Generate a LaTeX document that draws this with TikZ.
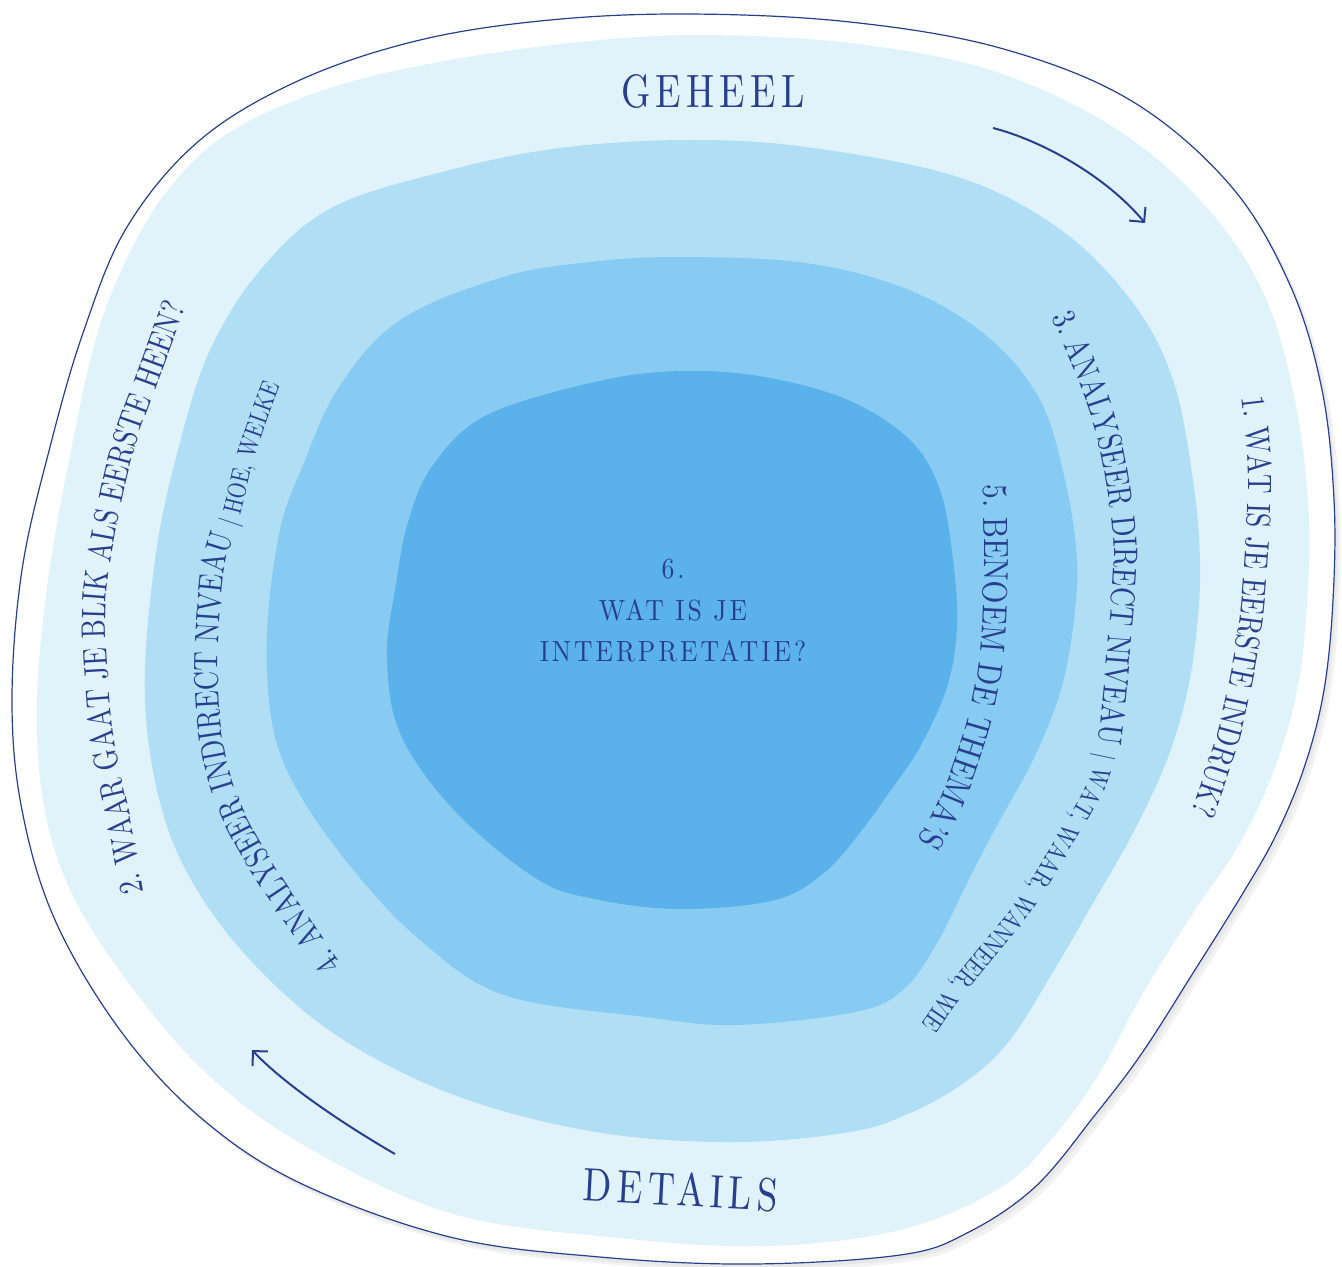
\documentclass[tikz,border=0pt]{standalone}
\usepackage{fontspec}
\usetikzlibrary{decorations.text,arrows.meta}
\newfontfamily\dfontA[FakeStretch=0.79,Ligatures=TeX]{lmroman10-regular.otf}
\newfontfamily\dfontB[FakeStretch=0.79,Ligatures=TeX]{lmroman10-regular.otf}
\newfontfamily\dfontC[FakeStretch=0.80,Ligatures=TeX]{lmroman10-regular.otf}
\newfontfamily\dfontD[FakeStretch=0.79,Ligatures=TeX]{lmroman10-regular.otf}
\newfontfamily\dfontE[FakeStretch=0.85,Ligatures=TeX]{lmroman10-regular.otf}
\newfontfamily\tfont[FakeStretch=0.8,Ligatures=TeX,LetterSpace=11]{lmroman10-regular.otf}
\newfontfamily\cfont[FakeStretch=0.88,Ligatures=TeX,LetterSpace=10]{lmroman10-regular.otf}
\newcommand\curveA{\dfontA\fontsize{17}{19}\selectfont}
\newcommand\curveB{\dfontB\fontsize{17}{19}\selectfont}
\newcommand\curveC{\dfontC\fontsize{17}{19}\selectfont}
\newcommand\curveCsmall{\dfontC\fontsize{13}{15}\selectfont}
\newcommand\curveD{\dfontD\fontsize{17}{19}\selectfont}
\newcommand\curveDsmall{\dfontD\fontsize{13}{15}\selectfont}
\newcommand\curveE{\dfontE\fontsize{17.5}{19}\selectfont}
\definecolor{ink}{HTML}{283F8E}
\definecolor{bandA}{HTML}{E0F3FB}
\definecolor{bandB}{HTML}{B0DFF5}
\definecolor{bandC}{HTML}{88CBF2}
\definecolor{bandD}{HTML}{5BB2EA}
\tikzset{
  curvetext/.style={decorate, decoration={text along path, text color=ink, text align=center}},
  titletext/.style={inner sep=0pt, text=ink, font=\tfont\fontsize{23.4}{25}\selectfont},
  ctext/.style={inner sep=0pt, text=ink, font=\cfont\fontsize{14.6}{16}\selectfont},
  arrowline/.style={draw=ink, line width=1pt, -{Straight Barb[length=5.3pt,width=10.6pt]}},
  outline/.style={draw=ink, line width=0.6pt, fill=white},
}
\begin{document}
\begin{tikzpicture}[x=0.5pt,y=-0.5pt]
\useasboundingbox (0,0) rectangle (1342,1266);
% outer shape with soft shadow
\def\outerpts{(690,14) (850,22) (1000,48) (1130,100) (1230,185) (1290,285) (1322,390) (1334,500) (1333,600) (1324,690) (1305,765) (1277,833) (1243,893) (1193,973) (1142,1053) (1095,1115) (1035,1187) (967,1233) (900,1255) (750,1264) (600,1257) (450,1237) (300,1183) (200,1117) (120,1030) (55,920) (22,810) (12,700) (22,570) (50,447) (83,333) (127,227) (200,140) (300,80) (420,40) (550,20)}
\fill[black!5, shift={(6,7)}] plot[smooth cycle, tension=0.6] coordinates {\outerpts};
\fill[black!9, shift={(3,4)}] plot[smooth cycle, tension=0.6] coordinates {\outerpts};
\path[outline] plot[smooth cycle, tension=0.6] coordinates {\outerpts};
% bands
\fill[bandA] plot[smooth cycle, tension=0.6] coordinates {(700,35) (850,43) (990,70) (1110,125) (1200,200) (1262,290) (1295,400) (1309,520) (1305,630) (1295,700) (1273,773) (1240,843) (1193,913) (1143,993) (1100,1072) (1055,1135) (1000,1188) (900,1230) (767,1246) (620,1238) (450,1213) (300,1143) (200,1067) (117,967) (67,883) (43,800) (37,700) (48,580) (71,450) (97,335) (130,252) (172,185) (233,130) (333,87) (450,60) (580,42)};
\fill[bandB] plot[smooth cycle, tension=0.6] coordinates {(685,140) (806,147) (958,177) (1061,230) (1133,303) (1173,380) (1193,480) (1200,560) (1197,627) (1187,693) (1167,760) (1133,833) (1093,903) (1060,960) (1010,1040) (965,1082) (910,1113) (850,1132) (736,1142) (602,1133) (468,1100) (360,1050) (280,990) (210,910) (165,820) (145,700) (155,560) (178,450) (210,350) (262,268) (333,207) (450,170) (560,148)};
\fill[bandC] plot[smooth cycle, tension=0.6] coordinates {(679,257) (806,263) (909,290) (988,337) (1040,400) (1065,480) (1077,560) (1073,627) (1060,693) (1033,760) (1000,820) (970,877) (937,943) (903,990) (855,1012) (736,1025) (646,1017) (504,995) (420,940) (355,872) (300,795) (273,728) (267,633) (280,530) (303,465) (339,387) (400,320) (503,277) (590,262)};
\fill[bandD] plot[smooth cycle, tension=0.6] coordinates {(682,371) (765,377) (848,400) (910,440) (940,490) (953,560) (957,627) (947,687) (920,747) (893,787) (862,830) (825,872) (775,900) (682,909) (600,900) (537,879) (454,810) (400,733) (387,656) (395,590) (408,522) (433,465) (487,415) (599,381)};
% titles
\node[titletext, anchor=base] (geheel) at (713,107) {GEHEEL};
\node[titletext, anchor=base, rotate=-3] (details) at (680,1206) {DETAILS};
% center
\node[ctext, anchor=base] (c1) at (673,578) {6.};
\node[ctext, anchor=base] (c2) at (673,620) {WAT IS JE};
\node[ctext, anchor=base] (c3) at (673,661) {INTERPRETATIE?};
% curved texts
\path[curvetext, decoration={text={|\curveA|1. WAT IS JE EERSTE INDRUK?}}]
  plot[smooth, tension=0.6] coordinates {(1235,350) (1241,393) (1248,470) (1245,560) (1237,640) (1221,720) (1206,770) (1189,818) (1171,856)};
\path[curvetext, decoration={text={|\curveB|2. WAAR GAAT JE BLIK ALS EERSTE HEEN?}}]
  plot[smooth, tension=0.6] coordinates {(149,935) (143,892) (131,820) (114,740) (107,660) (106,600) (116,530) (134,450) (159,380) (187,305) (205,268)};
\path[curvetext, decoration={text={|\curveC|3. ANALYSEER DIRECT NIVEAU |\curveCsmall|{\textbar} WAT, WAAR, WANNEER, WIE}}]
  plot[smooth, tension=0.6] coordinates {(1028,270) (1046,306) (1072,364) (1096,432) (1109,500) (1114,560) (1108,640) (1103,700) (1096,757) (1082,795) (1053,843) (1023,893) (983,943) (943,993) (913,1035) (888,1065)};
\path[curvetext, decoration={text={|\curveD|4. ANALYSEER INDIRECT NIVEAU |\curveDsmall|{\textbar} HOE, WELKE}}]
  plot[smooth, tension=0.6] coordinates {(385,1012) (350,975) (307,914) (268,855) (238,797) (223,739) (218,680) (220,620) (226,561) (241,512) (253,462) (270,412) (285,372) (302,325)};
\path[curvetext, decoration={text={|\curveE|5. BENOEM DE THEMA'S}}]
  plot[smooth, tension=0.6] coordinates {(982,440) (983,483) (984,560) (981,640) (973,698) (956,757) (937,805) (915,845) (893,878)};
% arrows
\coordinate (a1s) at (993,128);
\coordinate (a1e) at (1145,223);
\draw[arrowline] (a1s) .. controls (1040,140) and (1105,175) .. (a1e);
\coordinate (a2s) at (395,1154);
\coordinate (a2e) at (252,1050);
\draw[arrowline] (a2s) .. controls (345,1125) and (285,1085) .. (a2e);
\end{tikzpicture}
\end{document}
